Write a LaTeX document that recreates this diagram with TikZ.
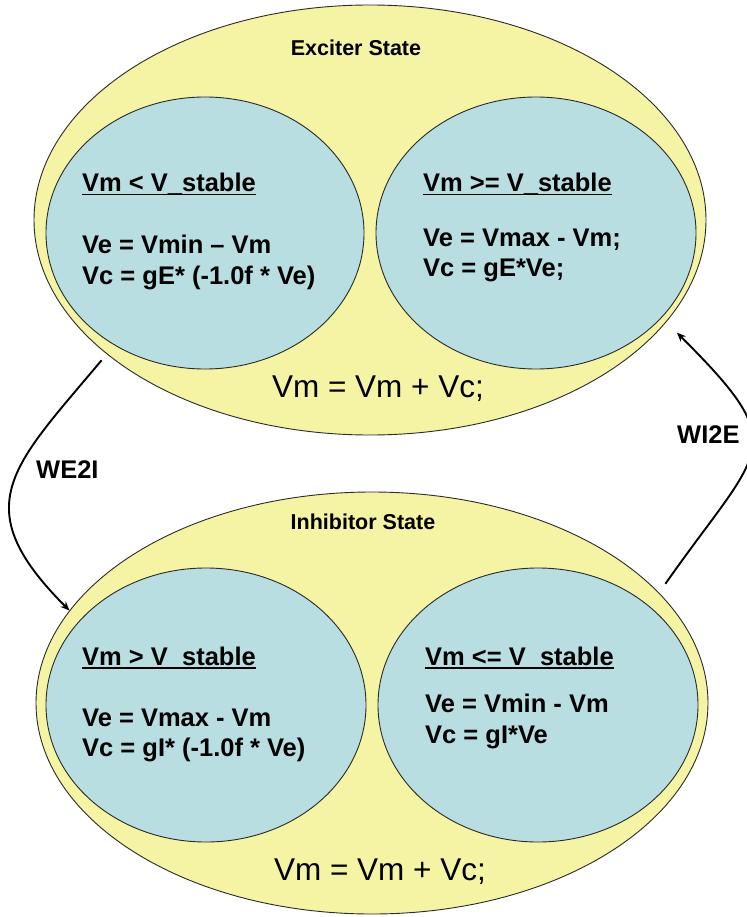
\documentclass[tikz,border=0pt]{standalone}
\usepackage{fontspec}
\setmainfont{Liberation Sans}
\usetikzlibrary{shapes.geometric,arrows.meta}
\definecolor{stateyellow}{HTML}{F4F4A4}
\definecolor{casecyan}{HTML}{B8DEE1}
\definecolor{rimgray}{HTML}{2A2A2A}
% underlined heading with a thick rule a little below the baseline
\newcommand\ulbox[1]{\setbox0\hbox{#1}\rlap{\rule[-3.5pt]{\wd0}{1.8pt}}\box0}

\begin{document}
\begin{tikzpicture}[x=1pt,y=-1pt,
  outer/.style={ellipse,draw=rimgray,line width=0.9pt,fill=stateyellow,inner sep=0pt},
  inner/.style={ellipse,draw=rimgray,line width=0.9pt,fill=casecyan,inner sep=0pt},
  title/.style={font=\fontsize{21.5}{24}\selectfont\bfseries,inner sep=0pt,anchor=base},
  casetxt/.style={font=\fontsize{25.5}{30}\selectfont\bfseries,inner sep=0pt,anchor=base west},
  update/.style={font=\fontsize{31.5}{36}\selectfont,inner sep=0pt,anchor=base},
  trans/.style={line width=1.9pt,-{Stealth[length=9pt,width=7.5pt]}}]

\useasboundingbox (0,0) rectangle (746,917);

% exciter state
\node[outer,minimum width=672pt,minimum height=430pt] (exc) at (370,220) {};
\node[inner,minimum width=318pt,minimum height=272pt] (excL) at (205,233) {};
\node[inner,minimum width=320pt,minimum height=272pt] (excR) at (536,233) {};

% inhibitor state
\node[outer,minimum width=672pt,minimum height=422pt] (inh) at (372,703) {};
\node[inner,minimum width=320pt,minimum height=274pt] (inhL) at (206,705) {};
\node[inner,minimum width=320pt,minimum height=274pt] (inhR) at (538,705) {};

% exciter texts
\node[title] (excT) at (356,56) {Exciter State};
\node[casetxt] (excL1) at (82,192) {\ulbox{Vm < V\_stable}};
\node[casetxt] (excL2) at (82,253) {Ve = Vmin \textendash{} Vm};
\node[casetxt] (excL3) at (82,284) {Vc = gE* (-1.0f * Ve)};
\node[casetxt] (excR1) at (423,192) {\ulbox{Vm >= V\_stable}};
\node[casetxt] (excR2) at (423,246) {Ve = Vmax - Vm;};
\node[casetxt] (excR3) at (423,276) {Vc = gE*Ve;};
\node[update] (excU) at (378,397) {Vm = Vm + Vc;};

% inhibitor texts
\node[title] (inhT) at (363,529) {Inhibitor State};
\node[casetxt] (inhL1) at (82,665) {\ulbox{Vm > V\_stable}};
\node[casetxt] (inhL2) at (82,726) {Ve = Vmax - Vm};
\node[casetxt] (inhL3) at (82,756) {Vc = gI* (-1.0f * Ve)};
\node[casetxt] (inhR1) at (425,665) {\ulbox{Vm <= V\_stable}};
\node[casetxt] (inhR2) at (425,712) {Ve = Vmin - Vm};
\node[casetxt] (inhR3) at (425,743) {Vc = gI*Ve};
\node[update] (inhU) at (380,880) {Vm = Vm + Vc;};

% transitions
\draw[trans,shorten <=8pt] (exc.207) to[out=230,in=135,looseness=1.46] (inh.163);
\draw[trans,shorten <=11pt,shorten >=15pt] (inh.21) to[out=55,in=-45,looseness=1.7] (exc.341);
\node[casetxt] (we2i) at (36,478) {WE2I};
\node[casetxt] (wi2e) at (677,443) {WI2E};
\end{tikzpicture}
\end{document}
